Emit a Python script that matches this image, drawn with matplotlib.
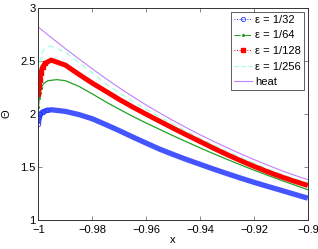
import matplotlib
matplotlib.use('Agg')
import matplotlib.pyplot as plt
from matplotlib.lines import Line2D

plt.rcParams['font.family'] = ['Liberation Sans', 'DejaVu Sans']

# x grid (coarse part after the boundary layer)
xg = [-0.995, -0.99, -0.985, -0.98, -0.975, -0.97, -0.965, -0.96, -0.955, -0.95,
      -0.945, -0.94, -0.935, -0.93, -0.925, -0.92, -0.915, -0.91, -0.905, -0.9]

# eps = 1/32
x32 = [-1.0, -0.9997, -0.9993, -0.9985, -0.997] + xg
y32 = [1.91, 1.97, 2.0, 2.02, 2.035,
       2.04, 2.025, 1.995, 1.955, 1.9, 1.843, 1.783, 1.725, 1.668, 1.618,
       1.57, 1.525, 1.48, 1.437, 1.395, 1.355, 1.317, 1.28, 1.242, 1.205]

# eps = 1/64
x64 = [-1.0, -0.9997, -0.9994, -0.999, -0.998, -0.9965, -0.9932] + xg[1:]
y64 = [2.07, 2.15, 2.2, 2.25, 2.29, 2.315, 2.325,
       2.315, 2.262, 2.19, 2.115, 2.045, 1.978, 1.915, 1.855, 1.795,
       1.737, 1.68, 1.625, 1.572, 1.52, 1.47, 1.422, 1.375, 1.33, 1.285]

# eps = 1/128
x128 = [-1.0, -0.99975, -0.9995, -0.9991, -0.9985, -0.9975, -0.9953] + xg[1:]
y128 = [2.19, 2.26, 2.32, 2.39, 2.44, 2.48, 2.51,
        2.462, 2.375, 2.292, 2.215, 2.138, 2.066, 1.998, 1.932, 1.866,
        1.802, 1.74, 1.677, 1.617, 1.56, 1.506, 1.455, 1.408, 1.365, 1.325]

# eps = 1/256
x256 = [-1.0, -0.9997, -0.999, -0.998, -0.996] + xg
y256 = [2.3, 2.45, 2.56, 2.61, 2.64,
        2.638, 2.585, 2.487, 2.39, 2.285, 2.2, 2.12, 2.045, 1.973, 1.903,
        1.836, 1.771, 1.708, 1.647, 1.59, 1.535, 1.483, 1.434, 1.389, 1.35]

# heat
xh = [-1.0] + xg
yh = [2.82, 2.718, 2.618, 2.521, 2.427, 2.335, 2.248, 2.165, 2.085, 2.01, 1.938,
      1.87, 1.804, 1.742, 1.682, 1.625, 1.57, 1.518, 1.468, 1.422, 1.38]

labels = ['\u03b5 = 1/32', '\u03b5 = 1/64', '\u03b5 = 1/128', '\u03b5 = 1/256', 'heat']

c32 = '#2233ff'
c64 = '#22a022'
c128 = '#ff0000'
c256 = '#a8ffe0'
cheat = '#c080ff'

fig = plt.figure(figsize=(3.18, 2.49), dpi=100)
ax = fig.add_axes([0.121, 0.117, 0.847, 0.85])

ax.plot(x32, y32, '-', color='#4455ff', lw=3.8, solid_capstyle='butt')
ax.plot(x32, y32, 'o', color=c32, mfc='none', ms=3.2, mew=0.6, markevery=[0, 1, 2, 3, 4])
ax.plot(x64, y64, '-', color=c64, lw=0.9)
ax.plot(x64, y64, '.', color=c64, ms=2.5, markevery=[0, 1, 2, 3])
ax.plot(x256, y256, '--', color=c256, lw=1.0, dashes=(4, 3))
ax.plot(x128, y128, '-', color=c128, lw=3.6, solid_capstyle='butt')
ax.plot(x128, y128, 's', color=c128, ms=2.6, markevery=[0, 1, 2, 3, 4, 5])
ax.plot(xh, yh, '-', color=cheat, lw=0.8)

ax.set_xlim(-1, -0.9)
ax.set_ylim(1, 3)
ax.set_xticks([-1, -0.98, -0.96, -0.94, -0.92, -0.9])
ax.set_xticklabels(['\u22121', '\u22120.98', '\u22120.96', '\u22120.94', '\u22120.92', '\u22120.9'])
ax.set_yticks([1, 1.5, 2, 2.5, 3])
ax.set_yticklabels(['1', '1.5', '2', '2.5', '3'])
ax.tick_params(direction='in', length=3, width=0.5, top=True, right=True,
               labelsize=8, pad=2, color='#555555')
ax.tick_params(axis='x', pad=3.5)
for s in ax.spines.values():
    s.set_linewidth(0.7)
    s.set_color('#333333')

ax.set_xlabel('x', fontsize=8, labelpad=0)
ax.set_ylabel('\u0398', fontsize=8, labelpad=6)

handles = [
    Line2D([], [], color=c32, ls=':', marker='o', mfc='none', ms=3, mew=0.6, lw=0.7),
    Line2D([], [], color=c64, ls='-.', marker='.', ms=2.5, lw=0.7),
    Line2D([], [], color=c128, ls=':', marker='s', ms=2.5, lw=0.7),
    Line2D([], [], color=c256, ls='--', lw=0.9),
    Line2D([], [], color=cheat, ls='-', lw=0.8),
]
leg = ax.legend(handles, labels, loc='upper right', fontsize=8, frameon=True,
                fancybox=False, borderaxespad=0.3, handlelength=1.6,
                handletextpad=0.3, labelspacing=0.5, borderpad=0.3)
leg.get_frame().set_edgecolor('#333333')
leg.get_frame().set_linewidth(0.7)

fig.savefig('out.png', dpi=100)
